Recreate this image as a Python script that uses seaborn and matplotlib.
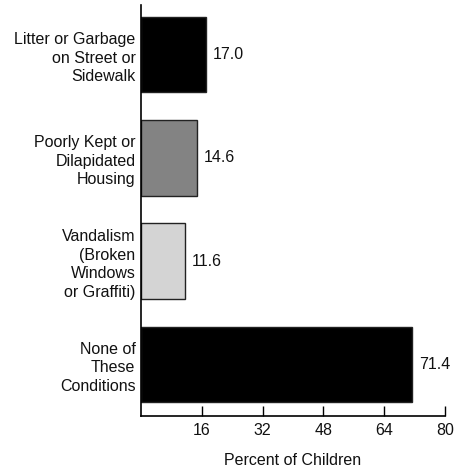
import seaborn as sns
import matplotlib.pyplot as plt
import pandas as pd

categories = ["Litter or Garbage\non Street or\nSidewalk",
              "Poorly Kept or\nDilapidated\nHousing",
              "Vandalism\n(Broken\nWindows\nor Graffiti)",
              "None of\nThese\nConditions"]
values = [17.0, 14.6, 11.6, 71.4]
colors = ["#000000", "#838383", "#d4d4d4", "#000000"]
xticks = [16, 32, 48, 64, 80]

sns.set_theme(style="white")
plt.rcParams['font.family'] = ['Liberation Sans', 'DejaVu Sans']

df = pd.DataFrame({"cat": categories, "val": values})

fig = plt.figure(figsize=(4.55, 4.69), dpi=100)
ax = fig.add_axes([0.31, 0.113, 0.668, 0.876])
sns.barplot(data=df, x="val", y="cat", hue="cat", palette=colors, orient="h",
            width=0.73, edgecolor="#222222", linewidth=1, legend=False, ax=ax)

for i, v in enumerate(values):
    ax.text(v + 1.8, i, f"{v:.1f}", va="center", ha="left", fontsize=11.5, color="#111111")

ax.set_xlim(0, 80)
ax.set_ylim(3.5, -0.48)
ax.set_xticks(xticks)
ax.set_xticklabels([str(t) for t in xticks], fontsize=11.5, color="#111111")
ax.tick_params(axis="x", direction="in", length=7, width=1, color="black", pad=5, bottom=True)
ax.tick_params(axis="y", length=0, pad=4)
for lab in ax.get_yticklabels():
    lab.set_fontsize(11.5)
    lab.set_color("#111111")
    lab.set_linespacing(1.3)
for s in ["top", "right"]:
    ax.spines[s].set_visible(False)
for s in ["left", "bottom"]:
    ax.spines[s].set_color("black")
    ax.spines[s].set_linewidth(1.2)
ax.set_xlabel("Percent of Children", fontsize=11.5, color="#111111", labelpad=11)
ax.set_ylabel("")

fig.savefig("out.png", dpi=100)
